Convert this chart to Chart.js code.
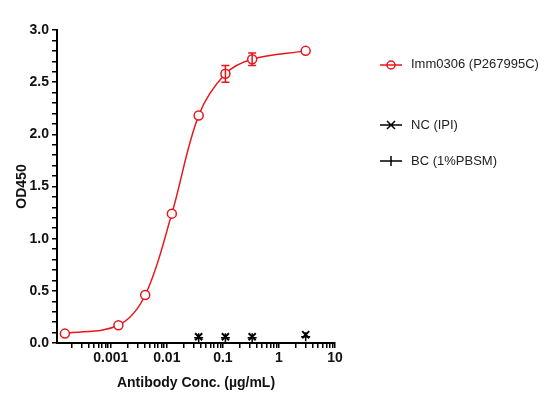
<!DOCTYPE html>
<html><head><meta charset="utf-8">
<script src="https://cdn.jsdelivr.net/npm/chart.js@4"></script>
<style>
body{margin:0;background:#fff;font-family:"Liberation Sans",Arial,sans-serif}
#w{position:relative;width:559px;height:406px}
.lg{position:absolute;left:411px;font-size:13px;color:#222}
</style></head><body>
<div id="w"><canvas id="c" width="559" height="406"></canvas>
<div class="lg" style="top:56px">Imm0306 (P267995C)</div>
<div class="lg" style="top:117px">NC (IPI)</div>
<div class="lg" style="top:153px">BC (1%PBSM)</div>
</div>
<script>
const conc = [0.000152, 0.00137, 0.00412, 0.0123, 0.037, 0.111, 0.333, 3];
const immValues = [0.09, 0.17, 0.46, 1.24, 2.18, 2.58, 2.72, 2.80];
const immErr = [0, 0, 0, 0, 0, 0.08, 0.06, 0];
const ncConc = [0.037, 0.111, 0.333, 3];
const ncValues = [0.06, 0.06, 0.06, 0.08];
const bcValues = [0.05, 0.05, 0.05, 0.06];
const xTickLabels = ['0.001','0.01','0.1','1','10'];

const red='#e8161b';
const F={family:'Liberation Sans',size:14,weight:'bold'};
const errPlugin={id:'err',afterDatasetsDraw(ch){
  const c=ch.ctx,x=ch.scales.x,y=ch.scales.y;c.save();c.strokeStyle=red;c.lineWidth=1.5;
  conc.forEach((v,i)=>{if(!immErr[i])return;const px=x.getPixelForValue(v),
    a=y.getPixelForValue(immValues[i]+immErr[i]),b=y.getPixelForValue(immValues[i]-immErr[i]);
    c.beginPath();c.moveTo(px,a);c.lineTo(px,b);c.moveTo(px-4,a);c.lineTo(px+4,a);c.moveTo(px-4,b);c.lineTo(px+4,b);c.stroke();});
  c.restore();}};
const legPlugin={id:'leg',afterDraw(ch){
  const c=ch.ctx;c.save();c.lineWidth=1.5;
  c.strokeStyle=red;c.beginPath();c.moveTo(380,65);c.lineTo(402,65);c.stroke();
  c.beginPath();c.arc(391,65,4,0,7);c.stroke();
  c.strokeStyle='#000';c.beginPath();c.moveTo(380,125);c.lineTo(402,125);c.moveTo(387,121);c.lineTo(395,129);c.moveTo(395,121);c.lineTo(387,129);c.stroke();
  c.beginPath();c.moveTo(380,161);c.lineTo(402,161);c.moveTo(391,156);c.lineTo(391,166);c.stroke();
  c.restore();}};
const minors=[];for(let e=-4;e<=0;e++)for(let m=1;m<=9;m++)minors.push(m*Math.pow(10,e));minors.push(10);

new Chart(document.getElementById('c'),{
  type:'line',
  data:{datasets:[
    {data:conc.map((v,i)=>({x:v,y:immValues[i]})),borderColor:red,backgroundColor:'#fff',borderWidth:1.5,
     tension:0.35,pointStyle:'circle',pointRadius:4.5,pointBorderWidth:1.5},
    {data:ncConc.map((v,i)=>({x:v,y:bcValues[i]})),showLine:false,borderColor:'#000',pointStyle:'cross',pointRadius:4.5,pointBorderWidth:1.5},
    {data:ncConc.map((v,i)=>({x:v,y:ncValues[i]})),showLine:false,borderColor:'#000',pointStyle:'crossRot',pointRadius:5,pointBorderWidth:2}
  ]},
  options:{animation:false,responsive:false,layout:{padding:{top:30,right:224,left:10,bottom:14}},
    plugins:{legend:{display:false},tooltip:{enabled:false}},
    scales:{
      x:{type:'logarithmic',min:0.00011,max:10,
        afterBuildTicks(s){s.ticks=minors.filter(v=>v>=0.00011).map(v=>({value:v}));},
        afterFit(s){s.height=49;},
        ticks:{autoSkip:false,maxRotation:0,color:'#111',font:F,padding:2,
          callback(v){const l=Math.log10(v);return Math.abs(l-Math.round(l))<1e-6&&v>=0.001?String(xTickLabels[Math.round(l)+3]):'';}},
        grid:{display:true,drawOnChartArea:false,tickLength:5,color:'#000',lineWidth:1.5},
        border:{color:'#000',width:2},
        title:{display:true,text:'Antibody Conc. (µg/mL)',color:'#111',font:F,padding:{top:4,bottom:0}}},
      y:{min:0,max:3,
        afterBuildTicks(s){const t=[];for(let i=0;i<=30;i++)t.push({value:i/10});s.ticks=t;},
        afterFit(s){s.width=47;},
        ticks:{autoSkip:false,color:'#111',font:F,
          callback(v){return Math.abs(v*2-Math.round(v*2))<1e-6?v.toFixed(1):'';}},
        grid:{display:true,drawOnChartArea:false,tickLength:5,color:'#000',lineWidth:1.5},
        border:{color:'#000',width:2},
        title:{display:true,text:'OD450',color:'#111',font:F,padding:{bottom:0}}}
    }},
  plugins:[errPlugin,legPlugin]
});
</script></body></html>
